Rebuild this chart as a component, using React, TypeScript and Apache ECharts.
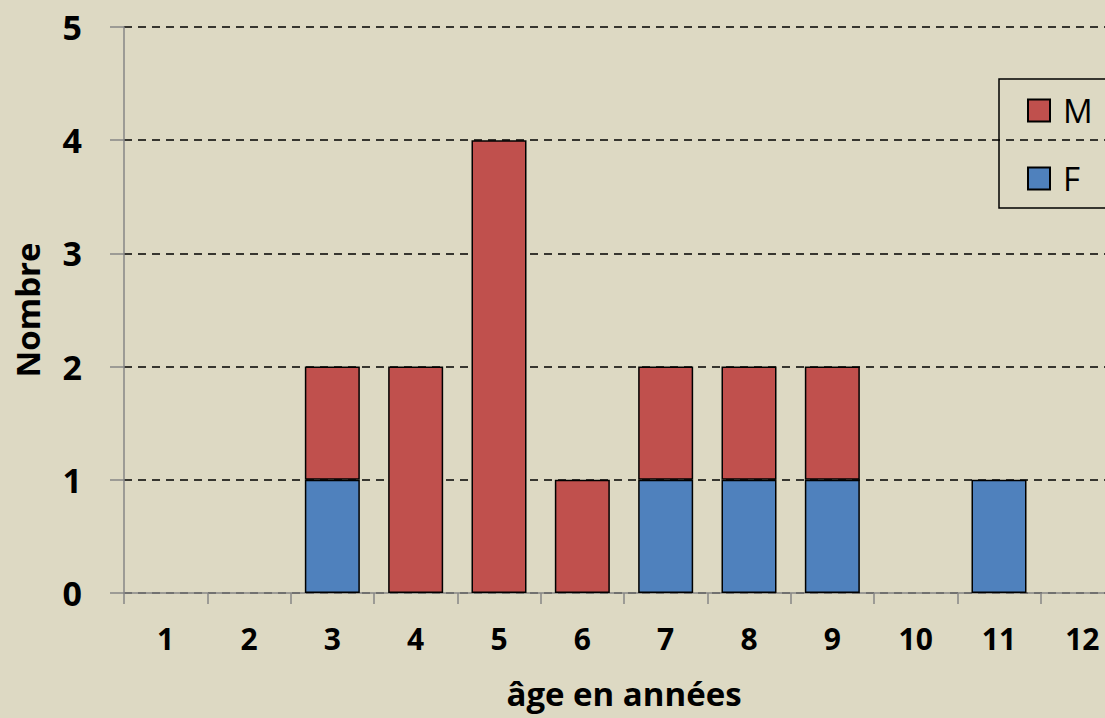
import React, { useEffect, useRef } from "react";
import * as echarts from "echarts";

const categories = ["1", "2", "3", "4", "5", "6", "7", "8", "9", "10", "11", "12"];
const femmes = [0, 0, 1, 0, 0, 0, 1, 1, 1, 0, 1, 0];
const hommes = [0, 0, 1, 2, 4, 1, 1, 1, 1, 0, 0, 0];
const yTicks = [0, 1, 2, 3, 4, 5];

const FONT = "'Open Sans', 'Noto Sans', sans-serif";

export default function App() {
  const ref = useRef<HTMLDivElement>(null);
  useEffect(() => {
    if (!ref.current) return;
    const chart = echarts.init(ref.current, null, { renderer: "svg" });
    const toData = (arr: number[]) => arr.map((v) => (v === 0 ? "-" : v));
    chart.setOption({
      animation: false,
      backgroundColor: "#DDD9C3",
      textStyle: { fontFamily: FONT },
      grid: {
        left: 124,
        top: 27,
        width: 1000,
        height: 566,
        containLabel: false,
        outerBoundsMode: "none",
      },
      legend: {
        orient: "vertical",
        left: 999,
        top: 79,
        padding: [15, 70, 13, 28],
        itemGap: 35,
        itemWidth: 22,
        itemHeight: 22,
        icon: "rect",
        borderColor: "#000",
        borderWidth: 1.5,
        borderRadius: 0,
        backgroundColor: "transparent",
        data: ["M", "F"],
        textStyle: {
          fontFamily: FONT,
          fontSize: 33,
          color: "#000",
          lineHeight: 22,
          padding: [0, 0, 0, 8],
        },
      },
      xAxis: {
        type: "category",
        data: categories,
        name: "âge en années",
        nameLocation: "middle",
        nameGap: 84,
        nameTextStyle: {
          fontFamily: FONT,
          fontSize: 33,
          lineHeight: 33,
          fontWeight: "bold",
          color: "#000",
        },
        axisLine: { show: true, lineStyle: { color: "#868686", width: 1.5 } },
        axisTick: { show: true, alignWithLabel: false, length: 11, lineStyle: { color: "#868686", width: 1.5 } },
        axisLabel: { fontFamily: FONT, fontSize: 30, fontWeight: "bold", color: "#000", margin: 30 },
        splitLine: { show: false },
      },
      yAxis: {
        type: "value",
        min: 0,
        max: 5,
        interval: 1,
        name: "Nombre",
        nameLocation: "middle",
        nameRotate: 90,
        nameGap: 80,
        nameTextStyle: { fontFamily: FONT, fontSize: 33, fontWeight: "bold", color: "#000" },
        axisLine: { show: true, lineStyle: { color: "#868686", width: 1.5 } },
        axisTick: { show: true, inside: false, length: 14, lineStyle: { color: "#868686", width: 1.5 } },
        axisLabel: {
          fontFamily: FONT,
          fontSize: 34,
          fontWeight: "bold",
          color: "#000",
          margin: 42,
          formatter: (v: number) => (yTicks.includes(v) ? String(v) : ""),
        },
        splitLine: { show: true, lineStyle: { color: "#000", width: 1.5, type: [8, 6] } },
      },
      series: [
        {
          name: "F",
          type: "bar",
          stack: "total",
          barWidth: 55,
          data: toData(femmes),
          itemStyle: { color: "#4F81BD", borderColor: "#000", borderWidth: 1.5 },
        },
        {
          name: "M",
          type: "bar",
          stack: "total",
          barWidth: 55,
          data: toData(hommes),
          itemStyle: { color: "#C0504D", borderColor: "#000", borderWidth: 1.5 },
        },
      ],
    });
    return () => chart.dispose();
  }, []);
  return (
    <div
      ref={ref}
      style={{ position: "fixed", left: 0, top: 0, width: 1105, height: 718 }}
    />
  );
}
